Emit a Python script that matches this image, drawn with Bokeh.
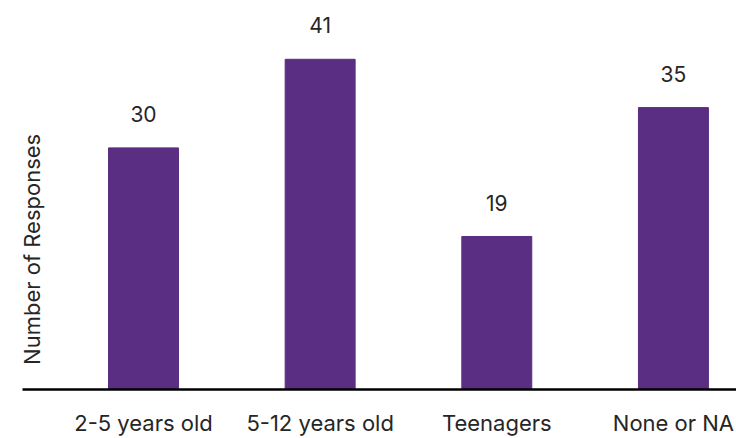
import math
from bokeh.plotting import figure
from bokeh.models import Range1d, FixedTicker, Label, ColumnDataSource
from bokeh.core.properties import value
from bokeh.embed import file_html
from bokeh.resources import INLINE

categories = ["2-5 years old", "5-12 years old", "Teenagers", "None or NA"]
responses = [30, 41, 19, 35]
y_title = "Number of Responses"

FONT = "Inter"
BAR = "#5A2E82"
TEXT = "#262626"
LABEL_GAP = 4.2  # value-label offset above bar (data units)

idx = list(range(len(categories)))
src = ColumnDataSource(dict(
    x=idx,
    top=responses,
    lab=[str(v) for v in responses],
    ly=[v + LABEL_GAP for v in responses],
))

p = figure(width=736, height=438, output_backend="svg", toolbar_location=None,
           x_range=Range1d(-0.685, 3.357), y_range=Range1d(0, 48.3),
           min_border_left=22, min_border_right=0, min_border_top=0,
           min_border_bottom=46)
p.outline_line_color = None
p.xgrid.visible = False
p.ygrid.visible = False
p.yaxis.visible = False
p.background_fill_color = "white"
p.border_fill_color = "white"

p.vbar(x="x", top="top", bottom=0, width=0.396, color=BAR, source=src)
p.text(x="x", y="ly", text="lab", source=src, text_align="center",
       text_baseline="middle", text_font=value(FONT), text_font_size="21px",
       text_color=TEXT)

xa = p.xaxis[0]
xa.ticker = FixedTicker(ticks=idx)
xa.major_label_overrides = {i: c for i, c in zip(idx, categories)}
xa.axis_line_color = "black"
xa.axis_line_width = 2.5
xa.major_tick_line_color = None
xa.minor_tick_line_color = None
xa.major_label_text_font = FONT
xa.major_label_text_font_size = "22px"
xa.major_label_text_color = TEXT
xa.major_label_standoff = 14

p.add_layout(Label(x=-0.632, y=17.4, text=y_title, angle=math.pi / 2,
                   text_align="center", text_baseline="middle",
                   text_font=FONT, text_font_size="22px", text_color=TEXT))

open("out.html", "w").write(file_html(p, INLINE))
